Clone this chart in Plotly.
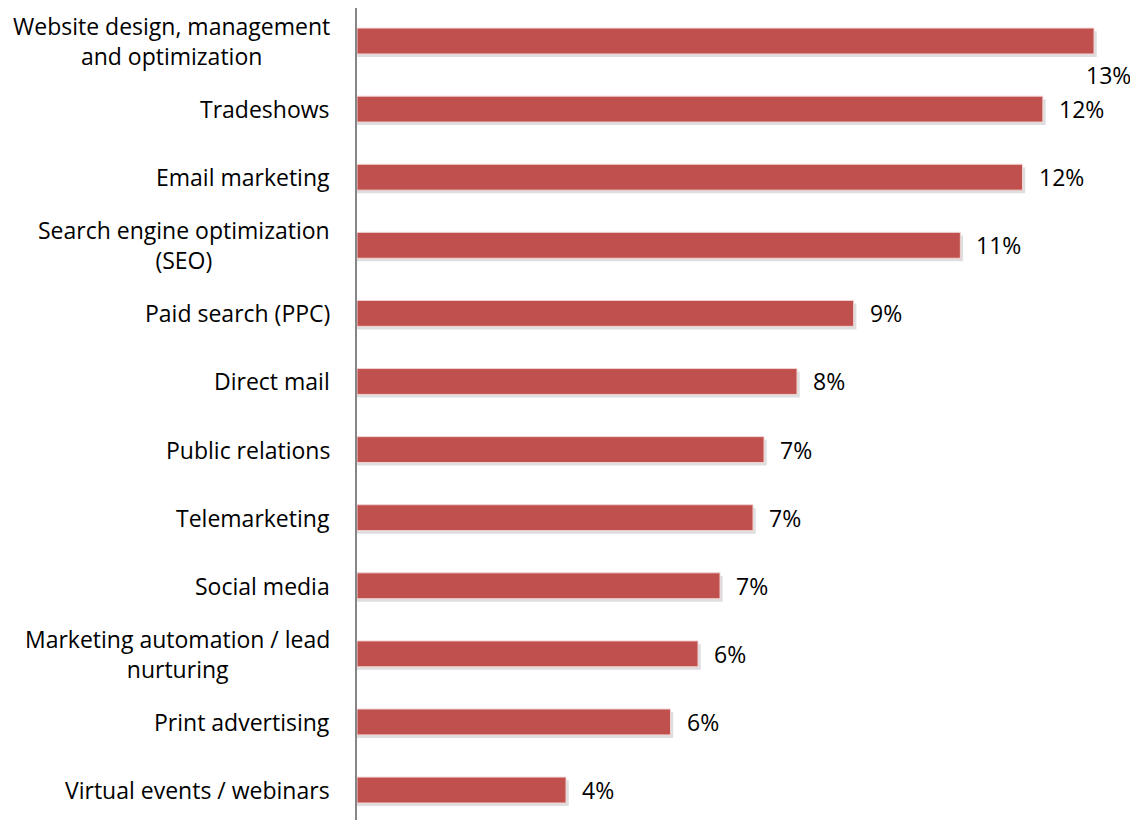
import plotly.graph_objects as go

categories = [
    "Website design, management<br>and optimization",
    "Tradeshows",
    "Email marketing",
    "Search engine optimization<br>(SEO)",
    "Paid search (PPC)",
    "Direct mail",
    "Public relations",
    "Telemarketing",
    "Social media",
    "Marketing automation / lead<br>nurturing",
    "Print advertising",
    "Virtual events / webinars",
]
values = [13.4, 12.47, 12.1, 10.97, 9.03, 8.0, 7.4, 7.2, 6.6, 6.2, 5.7, 3.8]
value_labels = ["13%", "12%", "12%", "11%", "9%", "8%", "7%", "7%", "7%", "6%", "6%", "4%"]

FONT = "Open Sans"
FS = 23
BAR = "#C0504D"
BW = 0.38

fig = go.Figure()
# soft shadow behind each bar
fig.add_trace(go.Bar(
    x=[v + 0.05 for v in values], y=categories, orientation="h",
    marker=dict(color="rgba(0,0,0,0.13)", line=dict(width=0)),
    width=BW, offset=-BW / 2 + 0.045,
    hoverinfo="skip",
))
fig.add_trace(go.Bar(
    x=values, y=categories, orientation="h",
    marker=dict(color=BAR, line=dict(color="#F2D3D2", width=1)),
    width=BW, offset=-BW / 2,
    hoverinfo="skip",
))

annotations = []
for i, (c, v, lab) in enumerate(zip(categories, values, value_labels)):
    annotations.append(dict(
        x=0, xref="paper", y=c, yref="y", xanchor="right", yanchor="middle",
        xshift=-25, text=c, showarrow=False, align="center",
        font=dict(family=FONT, size=FS, color="#000000"),
    ))
    if i == 0:
        annotations.append(dict(
            x=v, xref="x", y=c, yref="y", xanchor="left", yanchor="middle",
            xshift=-10, yshift=-34, text=lab, showarrow=False,
            font=dict(family=FONT, size=FS, color="#000000"),
        ))
    else:
        annotations.append(dict(
            x=v, xref="x", y=c, yref="y", xanchor="left", yanchor="middle",
            xshift=14, text=lab, showarrow=False,
            font=dict(family=FONT, size=FS, color="#000000"),
        ))

fig.update_layout(
    width=1130, height=812,
    margin=dict(l=349, r=0, t=0, b=0),
    paper_bgcolor="white", plot_bgcolor="white",
    showlegend=False, barmode="overlay",
    xaxis=dict(range=[0, 14.2], showgrid=False, zeroline=False,
               showticklabels=False, ticks="", showline=False),
    yaxis=dict(categoryorder="array", categoryarray=categories,
               range=[11.44, -0.485], showgrid=False, zeroline=False,
               showticklabels=False, ticks="", showline=True,
               linecolor="#868686", linewidth=1.5),
    annotations=annotations,
)

fig.write_html("out.html")
